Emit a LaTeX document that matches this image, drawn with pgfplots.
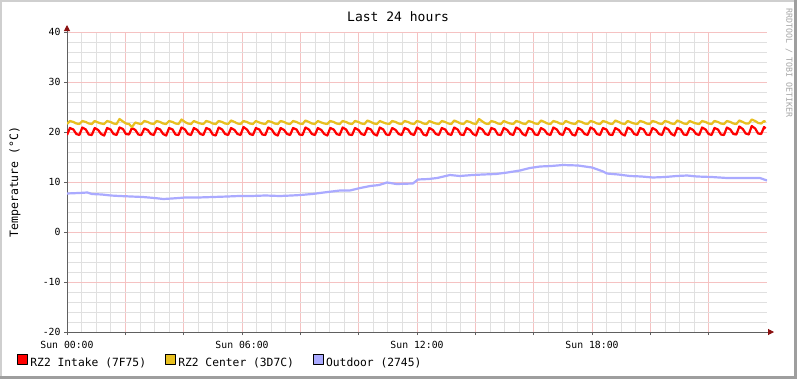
\documentclass[border=0pt]{standalone}
\usepackage{fontspec}
\setmainfont{DejaVu Sans Mono}
\usepackage{pgfplots}
\usepackage{pgfplotstable}
\pgfplotsset{compat=1.18}
\usetikzlibrary{arrows.meta}
\definecolor{cred}{HTML}{FF0000}
\definecolor{cyel}{HTML}{E8C020}
\definecolor{cout}{HTML}{AAAAFF}
\definecolor{mgrid}{HTML}{F5C2C2}
\definecolor{ngrid}{HTML}{E0E0E0}
\definecolor{axcol}{HTML}{606060}
\definecolor{arrcol}{HTML}{8B1010}
\definecolor{shadea}{HTML}{CFCFCF}
\definecolor{shadeb}{HTML}{9E9E9E}

\pgfplotstableread{
x r y
0 19.4 21.6
0.1 20.8 22.2
0.22 20.5 22.0
0.32 19.6 21.7
0.425 19.4 21.6
0.525 20.9 22.2
0.645 20.5 22.0
0.745 19.5 21.7
0.85 19.4 21.6
0.95 20.8 22.2
1.07 20.4 21.9
1.17 19.6 21.7
1.275 19.3 21.6
1.375 20.8 22.2
1.495 20.5 22.0
1.595 19.6 21.7
1.7 19.4 21.6
1.8 20.9 22.6
1.92 20.6 22.1
2.02 19.6 21.7
2.125 19.5 21.6
2.225 20.8 21.0
2.345 20.4 21.9
2.445 19.5 21.7
2.55 19.4 21.6
2.65 20.7 22.2
2.77 20.4 22.0
2.87 19.6 21.7
2.975 19.4 21.6
3.075 20.8 22.2
3.195 20.5 22.0
3.295 19.6 21.7
3.4 19.3 21.6
3.5 20.8 22.2
3.62 20.5 22.0
3.72 19.5 21.7
3.825 19.4 21.6
3.925 20.9 22.5
4.045 20.5 22.0
4.145 19.6 21.7
4.25 19.4 21.6
4.35 20.8 22.2
4.47 20.4 21.9
4.57 19.6 21.7
4.675 19.4 21.6
4.775 20.8 22.2
4.895 20.5 22.0
4.995 19.5 21.7
5.1 19.3 21.6
5.2 20.9 22.2
5.32 20.5 22.0
5.42 19.6 21.7
5.525 19.4 21.6
5.625 20.8 22.3
5.745 20.4 22.0
5.845 19.6 21.7
5.95 19.4 21.6
6.05 21.0 22.2
6.17 20.5 22.0
6.27 19.6 21.7
6.375 19.4 21.6
6.475 20.8 22.2
6.595 20.5 21.9
6.695 19.5 21.7
6.8 19.4 21.6
6.9 20.9 22.2
7.02 20.5 22.0
7.12 19.6 21.7
7.225 19.3 21.6
7.325 20.8 22.2
7.445 20.4 22.0
7.545 19.6 21.7
7.65 19.4 21.6
7.75 20.8 22.2
7.87 20.5 22.0
7.97 19.5 21.7
8.075 19.4 21.6
8.175 20.9 22.3
8.295 20.5 22.0
8.395 19.6 21.7
8.5 19.4 21.6
8.6 20.8 22.2
8.72 20.4 21.9
8.82 19.6 21.7
8.925 19.3 21.6
9.025 20.8 22.2
9.145 20.5 22.0
9.245 19.6 21.7
9.35 19.4 21.6
9.45 20.9 22.2
9.57 20.5 22.0
9.67 19.5 21.7
9.775 19.4 21.6
9.875 20.8 22.2
9.995 20.4 22.0
10.095 19.6 21.7
10.2 19.4 21.6
10.3 20.8 22.3
10.42 20.5 22.0
10.52 19.6 21.7
10.625 19.3 21.6
10.725 20.9 22.2
10.845 20.5 21.9
10.945 19.5 21.7
11.05 19.4 21.6
11.15 20.8 22.2
11.27 20.4 22.0
11.37 19.6 21.7
11.475 19.4 21.6
11.575 20.8 22.2
11.695 20.5 22.0
11.795 19.6 21.7
11.9 19.4 21.6
12.0 20.9 22.2
12.12 20.5 22.0
12.22 19.5 21.7
12.325 19.3 21.6
12.425 20.8 22.2
12.545 20.4 21.9
12.645 19.6 21.7
12.75 19.4 21.6
12.85 20.8 22.2
12.97 20.5 22.0
13.07 19.6 21.7
13.175 19.4 21.6
13.275 20.9 22.3
13.395 20.5 22.0
13.495 19.5 21.7
13.6 19.4 21.6
13.7 20.8 22.2
13.82 20.4 22.0
13.92 19.6 21.7
14.025 19.3 21.6
14.125 20.9 22.6
14.245 20.5 22.1
14.345 19.6 21.7
14.45 19.4 21.6
14.55 20.8 22.2
14.67 20.5 22.0
14.77 19.5 21.7
14.875 19.4 21.6
14.975 20.8 22.2
15.095 20.4 21.9
15.195 19.6 21.7
15.3 19.4 21.6
15.4 20.9 22.2
15.52 20.5 22.0
15.62 19.6 21.7
15.725 19.3 21.6
15.825 20.8 22.2
15.945 20.5 22.0
16.045 19.5 21.7
16.15 19.4 21.6
16.25 20.8 22.3
16.37 20.4 22.0
16.47 19.6 21.7
16.575 19.4 21.6
16.675 20.9 22.2
16.795 20.5 22.0
16.895 19.6 21.7
17.0 19.4 21.6
17.1 20.8 22.2
17.22 20.5 21.9
17.32 19.5 21.7
17.425 19.3 21.6
17.525 20.8 22.2
17.645 20.4 22.0
17.745 19.6 21.7
17.85 19.4 21.6
17.95 20.9 22.2
18.07 20.5 22.0
18.17 19.6 21.7
18.275 19.4 21.6
18.375 20.8 22.2
18.495 20.5 22.0
18.595 19.5 21.7
18.7 19.4 21.6
18.8 20.8 22.3
18.92 20.4 22.0
19.02 19.6 21.7
19.125 19.3 21.6
19.225 20.9 22.2
19.345 20.5 21.9
19.445 19.6 21.7
19.55 19.4 21.6
19.65 20.8 22.2
19.77 20.5 22.0
19.87 19.5 21.7
19.975 19.4 21.6
20.075 20.8 22.2
20.195 20.4 22.0
20.295 19.6 21.7
20.4 19.4 21.6
20.5 20.9 22.2
20.62 20.5 22.0
20.72 19.6 21.7
20.825 19.3 21.6
20.925 20.8 22.3
21.045 20.5 22.0
21.145 19.5 21.7
21.25 19.4 21.6
21.35 20.8 22.2
21.47 20.4 21.9
21.57 19.6 21.7
21.675 19.4 21.6
21.775 20.9 22.2
21.895 20.5 22.0
21.995 19.6 21.7
22.1 19.4 21.6
22.2 20.8 22.2
22.32 20.5 22.0
22.42 19.5 21.7
22.525 19.4 21.6
22.625 20.9 22.2
22.745 20.5 22.0
22.845 19.6 21.7
22.95 19.5 21.6
23.05 21.1 22.3
23.17 20.6 22.0
23.27 19.7 21.7
23.375 19.5 21.7
23.475 21.2 22.5
23.595 20.7 22.2
23.695 19.7 21.8
23.8 19.6 21.7
23.9 21.0 22.2
23.95 20.7 22.0
}\rzdata

\pgfplotstableread{
x o
0 7.7
0.4 7.8
0.7 7.9
0.85 7.6
1.2 7.5
1.5 7.3
1.8 7.2
2.2 7.1
2.6 7.0
3.0 6.8
3.3 6.6
3.6 6.7
4.05 6.9
4.5 6.9
5.0 7.0
5.5 7.1
5.9 7.2
6.3 7.2
6.8 7.3
7.3 7.2
7.7 7.3
8.0 7.4
8.4 7.6
8.8 7.9
9.36 8.3
9.7 8.3
10.05 8.8
10.4 9.2
10.7 9.4
10.97 9.9
11.3 9.6
11.86 9.7
12.03 10.5
12.4 10.6
12.69 10.8
13.13 11.4
13.47 11.2
13.9 11.4
14.26 11.5
14.7 11.6
15.1 11.9
15.53 12.3
15.87 12.8
16.22 13.1
16.6 13.2
17.0 13.4
17.52 13.3
18.0 12.9
18.38 12.1
18.51 11.7
18.9 11.5
19.3 11.2
19.7 11.1
20.09 10.9
20.5 11.0
20.9 11.2
21.26 11.3
21.6 11.1
22.1 11.0
22.63 10.8
23.2 10.8
23.76 10.8
24 10.3
}\outdata

\begin{document}
\begin{tikzpicture}[x=1bp,y=1bp]
\path[use as bounding box] (0,0) rectangle (797,379);
\fill[shadeb] (0,0) rectangle (797,379);
\fill[shadea] (0,3) rectangle (794,379);
\fill[white] (2,3) rectangle (794,377);
\node[rotate=-90, font=\fontsize{8.3bp}{9bp}\selectfont, text=black!35] at (789,316) {RRDTOOL / TOBI OETIKER};
\begin{axis}[
  at={(67bp,47bp)}, anchor=south west,
  scale only axis, width=700bp, height=300bp,
  xmin=0, xmax=24, ymin=-20, ymax=40,
  axis lines=left,
  axis line style={axcol, line width=1bp, shorten >=-7bp, -{Triangle[length=6bp,width=6bp,color=arrcol]}},
  xtick={0,2,...,22},
  xticklabels={Sun 00:00,,,Sun 06:00,,,Sun 12:00,,,Sun 18:00,,},
  minor x tick num=3,
  ytick={-20,-10,0,10,20,30,40},
  yticklabels={-20,-10,0,10,20,30,40},
  minor y tick num=4,
  grid=both,
  major grid style={mgrid, line width=0.8bp},
  minor grid style={ngrid, line width=0.8bp},
  tick align=outside,
  major tick length=3bp, minor tick length=0bp,
  tick style={axcol, line width=0.8bp},
  xticklabel style={font=\fontsize{9.8bp}{11bp}\selectfont, yshift=-3bp},
  yticklabel style={font=\fontsize{9.8bp}{11bp}\selectfont},
  /pgf/number format/assume math mode=true,
  title={Last 24 hours},
  title style={at={(axis description cs:0.473,1.03)}, anchor=center, font=\fontsize{13bp}{15bp}\selectfont},
  ylabel={Temperature (°C)},
  ylabel style={at={(axis description cs:-0.0743,0.5)}, anchor=center, font=\fontsize{11.5bp}{13bp}\selectfont},
  legend columns=3,
  legend style={at={(axis description cs:-0.0714,-0.0967)}, anchor=west, draw=none, fill=none, inner sep=0pt,
    font=\fontsize{11.3bp}{13bp}\selectfont,
    nodes={inner xsep=2.5bp, inner ysep=0bp},
    /tikz/every even column/.append style={column sep=16.5bp}},
]
\addplot[cred, line width=2.2bp, line join=round, legend image code/.code={\draw[fill=cred,draw=black,line width=0.7bp] (0bp,-1bp) rectangle (10bp,9bp);}] table[x=x,y=r] {\rzdata};
\addlegendentry{RZ2 Intake (7F75)}
\addplot[cyel, line width=2.2bp, line join=round, legend image code/.code={\draw[fill=cyel,draw=black,line width=0.7bp] (0bp,-1bp) rectangle (10bp,9bp);}] table[x=x,y=y] {\rzdata};
\addlegendentry{RZ2 Center (3D7C)}
\addplot[cout, line width=2.2bp, line join=round, legend image code/.code={\draw[fill=cout,draw=black,line width=0.7bp] (0bp,-1bp) rectangle (10bp,9bp);}] table[x=x,y=o] {\outdata};
\addlegendentry{Outdoor (2745)}
\end{axis}
\end{tikzpicture}
\end{document}
